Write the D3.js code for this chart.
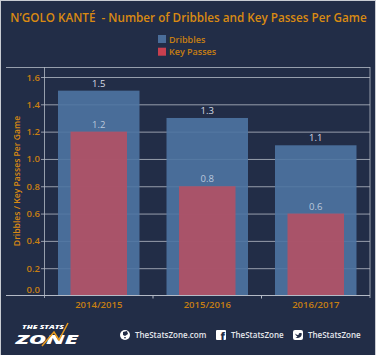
<!DOCTYPE html>
<meta charset="utf-8">
<style>
body { margin: 0; background: #fff; }
text { font-family: "Open Sans", sans-serif; white-space: pre; }
.axis .domain { display: none; }
</style>
<body>
<script src="https://d3js.org/d3.v7.min.js"></script>
<script>
// chart data
var seasons = ["2014/2015", "2015/2016", "2016/2017"];
var dribbles = [1.5, 1.3, 1.1];
var keyPasses = [1.2, 0.8, 0.6];
var yTicks = [0, 0.2, 0.4, 0.6, 0.8, 1.0, 1.2, 1.4, 1.6];
var legendLabels = ["Dribbles", "Key Passes"];
var legendColors = ["#4a6d99", "#c9404f"];
var footerLabels = ["TheStatsZone.com", "TheStatsZone", "TheStatsZone"];

var bg = "#222d47", orange = "#c77f12", grid = "#b4bac6";

var svg = d3.select("body").append("svg")
  .attr("width", 376).attr("height", 355)
  .style("display", "block");

svg.append("rect").attr("x", 0).attr("y", 0).attr("width", 376).attr("height", 355).attr("fill", "#c9ccd3");
svg.append("rect").attr("x", 1).attr("y", 1).attr("width", 374).attr("height", 354).attr("fill", bg);

var x = d3.scaleBand().domain(seasons).range([44.5, 370]).paddingInner(0);
var y = d3.scaleLinear().domain([0, 1.6]).range([295.5, 77]);

// title
svg.append("text").attr("x", 188.5).attr("y", 22).attr("text-anchor", "middle")
  .attr("fill", "#d98a12").style("font-size", "11.7px").style("font-weight", 600)
  .text("N\u2019GOLO KANT\u00c9  - Number of Dribbles and Key Passes Per Game");

// legend
var legend = svg.selectAll(".legend").data(legendLabels).enter().append("g")
  .attr("class", "legend")
  .attr("transform", function(d, i) { return "translate(158," + (35 + i * 12.7) + ")"; });
legend.append("rect").attr("width", 8).attr("height", 8)
  .attr("fill", function(d, i) { return legendColors[i]; });
legend.append("text").attr("x", 11).attr("y", 7.5).attr("fill", orange)
  .style("font-size", "9px").style("font-weight", 600).text(function(d) { return d; });

// y axis and grid, drawn first so the lines show faintly through the bars
var yAxis = svg.append("g").attr("class", "axis")
  .attr("transform", "translate(44.5,0)")
  .call(d3.axisLeft(y).tickValues(yTicks).tickFormat(d3.format(".1f")).tickSize(0).tickPadding(4.5));
yAxis.selectAll("text").attr("fill", orange).style("font-size", "9.5px").style("font-weight", 600);
// the 0.0 label sits above the baseline
yAxis.selectAll(".tick").filter(function(d) { return d === 0; }).select("text").attr("y", -6.5);
yAxis.selectAll(".tick").filter(function(d) { return d > 0; }).append("line")
  .attr("x1", -3.5).attr("x2", 325.5).attr("stroke", grid).attr("stroke-opacity", 0.8);

// bars
var dribbleW = 81.5, keyW = 56.5;
svg.selectAll(".dribble").data(seasons).enter().append("rect")
  .attr("class", "dribble")
  .attr("x", function(d) { return x(d) + x.bandwidth() / 2 - dribbleW / 2; })
  .attr("width", dribbleW)
  .attr("y", function(d, i) { return y(dribbles[i]); })
  .attr("height", function(d, i) { return y(0) - y(dribbles[i]); })
  .attr("fill", "#4e74a2").attr("fill-opacity", 0.9);
svg.selectAll(".key").data(seasons).enter().append("rect")
  .attr("class", "key")
  .attr("x", function(d) { return x(d) + x.bandwidth() / 2 - keyW / 2; })
  .attr("width", keyW)
  .attr("y", function(d, i) { return y(keyPasses[i]); })
  .attr("height", function(d, i) { return y(0) - y(keyPasses[i]); })
  .attr("fill", "#b45064").attr("fill-opacity", 0.9);

// frame
svg.append("line").attr("x1", 6).attr("x2", 370).attr("y1", 67.5).attr("y2", 67.5).attr("stroke", grid).attr("stroke-opacity", 0.8);
svg.append("line").attr("x1", 6).attr("x2", 370).attr("y1", 295.5).attr("y2", 295.5).attr("stroke", grid);
svg.append("line").attr("x1", 44.5).attr("x2", 44.5).attr("y1", 67).attr("y2", 298).attr("stroke", grid).attr("stroke-opacity", 0.8);
svg.append("line").attr("x1", 370).attr("x2", 370).attr("y1", 67).attr("y2", 298).attr("stroke", grid).attr("stroke-opacity", 0.8);

// x axis
var xAxis = svg.append("g").attr("class", "axis")
  .attr("transform", "translate(0,295.5)")
  .call(d3.axisBottom(x).tickSize(0).tickPadding(6));
xAxis.selectAll("text").attr("fill", orange).style("font-size", "9.5px").style("font-weight", 600);
xAxis.selectAll(".sep").data(x.domain().slice(1)).enter().append("line")
  .attr("x1", function(d) { return x(d); }).attr("x2", function(d) { return x(d); })
  .attr("y1", 0).attr("y2", 3).attr("stroke", grid);

// value labels
svg.selectAll(".dlabel").data(seasons).enter().append("text")
  .attr("x", function(d) { return x(d) + x.bandwidth() / 2; })
  .attr("y", function(d, i) { return y(dribbles[i]) - 4; })
  .attr("text-anchor", "middle").attr("fill", "#d8dde6").style("font-size", "9.5px")
  .text(function(d, i) { return d3.format(".1f")(dribbles[i]); });
svg.selectAll(".klabel").data(seasons).enter().append("text")
  .attr("x", function(d) { return x(d) + x.bandwidth() / 2; })
  .attr("y", function(d, i) { return y(keyPasses[i]) - 4; })
  .attr("text-anchor", "middle").attr("fill", "#b9c8dc").style("font-size", "9.5px")
  .text(function(d, i) { return d3.format(".1f")(keyPasses[i]); });

// y title
svg.append("text").attr("transform", "translate(19.5,181) rotate(-90)")
  .attr("text-anchor", "middle").attr("fill", "#d98a12")
  .style("font-size", "8.6px").style("font-weight", 600)
  .text("Dribbles / Key Passes Per Game");

// logo
var logo = svg.append("g");
logo.append("text").attr("x", 22).attr("y", 328.5).attr("fill", "#fff")
  .attr("textLength", 42).attr("lengthAdjust", "spacingAndGlyphs")
  .style("font-size", "5.5px").style("font-weight", 800).style("font-style", "italic").text("THE STATS");
logo.append("text").attr("x", 16).attr("y", 344).attr("fill", "#fff")
  .attr("textLength", 62).attr("lengthAdjust", "spacingAndGlyphs")
  .style("font-size", "12.5px").style("font-weight", 800).style("font-style", "italic").text("ZONE");
logo.append("path").attr("d", "M42 346L54 332L59 340L68 323").attr("fill", "none").attr("stroke", "#e89a1c").attr("stroke-width", 1.5);

// footer
var footerX = [135, 231, 308];
svg.selectAll(".foot").data(footerLabels).enter().append("text")
  .attr("x", function(d, i) { return footerX[i]; }).attr("y", 338)
  .attr("fill", "#e4e7ec").style("font-size", "8px").style("font-weight", 600)
  .text(function(d) { return d; });
svg.append("circle").attr("cx", 125).attr("cy", 335).attr("r", 5).attr("fill", "#fff");
svg.append("path").attr("d", "M123 332L127 331L128 334L125 336L123 335ZM124 337L126 337L125 339Z").attr("fill", bg);
svg.append("rect").attr("x", 216).attr("y", 330).attr("width", 10).attr("height", 10).attr("rx", 1).attr("fill", "#fff");
svg.append("text").attr("x", 220.5).attr("y", 340).attr("fill", bg).style("font-size", "10.5px").style("font-weight", 800).text("f");
svg.append("rect").attr("x", 293).attr("y", 330).attr("width", 10).attr("height", 10).attr("rx", 2).attr("fill", "#fff");
svg.append("path").attr("d", "M295 333.5C296.5 334.5 297.5 335 298.5 335C298.5 333 300.5 332.5 301.5 333.5L302 333L301.7 334.5C301.5 337 299 338.5 295.5 337.7C296.5 337.5 297 337 297.5 336.7C296.5 336 295.5 335 295 333.5Z").attr("fill", bg);
</script>
</body>
